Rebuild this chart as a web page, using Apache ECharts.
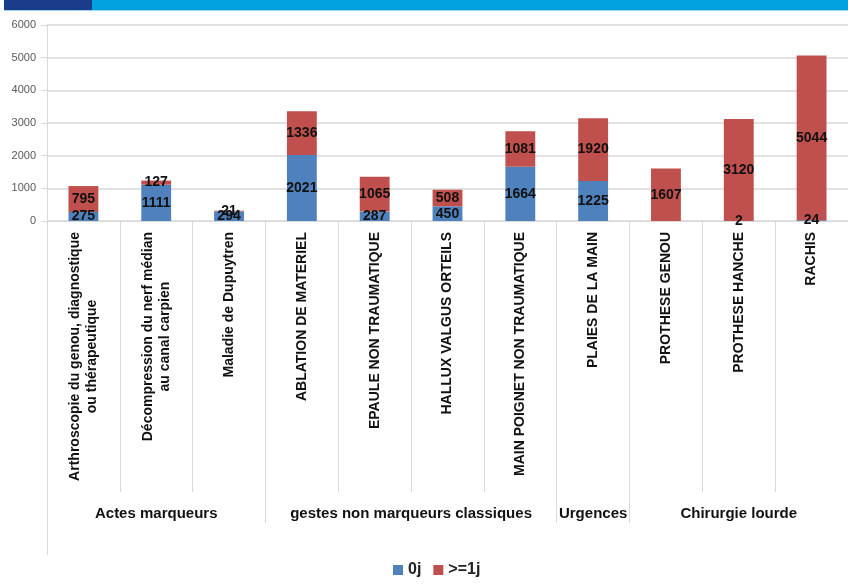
<!DOCTYPE html>
<html><head><meta charset="utf-8">
<script src="https://cdn.jsdelivr.net/npm/echarts@6/dist/echarts.min.js"></script>
<style>html,body{margin:0;padding:0;background:#fff}#c{width:848px;height:585px}</style>
</head><body><div id="c"></div>
<script>
const categories = [
  "Arthroscopie du genou, diagnostique\nou thérapeutique",
  "Décompression du nerf médian\nau canal carpien",
  "Maladie de Dupuytren",
  "ABLATION DE MATERIEL",
  "EPAULE NON TRAUMATIQUE",
  "HALLUX VALGUS ORTEILS",
  "MAIN POIGNET NON TRAUMATIQUE",
  "PLAIES DE LA MAIN",
  "PROTHESE GENOU",
  "PROTHESE HANCHE",
  "RACHIS"
];
const groups = ["Actes marqueurs", "gestes non marqueurs classiques", "Urgences", "Chirurgie lourde"];
const groupSizes = [3, 4, 1, 3];
const seriesNames = ["0j", ">=1j"];
const values0j = [275, 1111, 294, 2021, 287, 450, 1664, 1225, null, 2, 24];
const values1j = [795, 127, 21, 1336, 1065, 508, 1081, 1920, 1607, 3120, 5044];
const yMin = 0, yMax = 6000, yStep = 1000;

// group boundaries & centres derived from group sizes
const bounds = [];
const centres = [];
let acc = 0;
groupSizes.forEach(s => { centres.push(acc + s / 2); acc += s; bounds.push(acc); });
const innerBounds = bounds.slice(0, -1);
const nCat = categories.length;

const grey = '#d9d9d9';
const catFont = "'Liberation Sans Narrow', 'Liberation Sans', Arial, sans-serif";
const catSize = 14;

// centre each line of a multi-line category label within its block
const mctx = document.createElement('canvas').getContext('2d');
mctx.font = 'bold ' + catSize + 'px ' + catFont;
const rich = {c: {align: 'right', fontFamily: catFont, fontWeight: 'bold', fontSize: catSize, color: '#111', lineHeight: 17}};
const catFormatted = categories.map((name, idx) => {
  const lines = name.split('\n');
  if (lines.length === 1) return '{c|' + name + '}';
  const ws = lines.map(l => mctx.measureText(l).width);
  const maxW = Math.max(...ws);
  return lines.map((l, k) => {
    const pad = (maxW - ws[k]) / 2;
    if (pad < 0.5) return '{c|' + l + '}';
    const key = 's' + idx + '_' + k;
    rich[key] = {width: pad, align: 'right', fontSize: catSize, lineHeight: 17};
    return '{c|' + l + '}{' + key + '| }';
  }).join('\n');
});

const chart = echarts.init(document.getElementById('c'), null, {renderer: 'canvas'});
const labelStyle = {
  show: true, position: 'inside', color: '#111',
  fontFamily: "'Liberation Sans', Arial, sans-serif", fontWeight: 'bold', fontSize: 14
};
chart.setOption({
  animation: false,
  graphic: [
    {type: 'rect', shape: {x: 4, y: 0, width: 88, height: 10}, style: {fill: '#1b3c8a'}},
    {type: 'rect', shape: {x: 92, y: 0, width: 756, height: 10}, style: {fill: '#00a2df'}},
    {type: 'rect', shape: {x: 4, y: 10, width: 844, height: 1}, style: {fill: '#9ad6ef'}}
  ],
  grid: {left: 47, right: -8, top: 25, bottom: 364, containLabel: false},
  legend: {
    data: seriesNames, left: 388, bottom: 2, itemWidth: 10, itemHeight: 10, itemGap: 12,
    icon: 'rect',
    textStyle: {fontFamily: "'Liberation Sans', Arial, sans-serif", fontWeight: 'bold', fontSize: 16, color: '#222'}
  },
  xAxis: [
    {
      type: 'category', data: categories,
      axisLine: {show: true, lineStyle: {color: grey, width: 1}},
      axisTick: {show: true, interval: 0, length: 271, lineStyle: {color: grey}},
      axisLabel: {
        interval: 0, rotate: 90, margin: 11, color: '#111',
        fontFamily: catFont, fontWeight: 'bold', fontSize: catSize,
        formatter: (v, idx) => catFormatted[idx],
        rich: rich
      }
    },
    {
      type: 'value', min: 0, max: nCat, position: 'bottom', offset: 271,
      axisLine: {show: false}, splitLine: {show: false},
      axisTick: {show: true, customValues: innerBounds, length: 31, lineStyle: {color: grey}},
      axisLabel: {
        customValues: centres, margin: 14, color: '#111',
        fontFamily: catFont, fontWeight: 'bold', fontSize: 15,
        formatter: v => { const i = centres.indexOf(v); return i >= 0 ? groups[i] : ''; }
      }
    },
    {
      type: 'value', min: 0, max: nCat, position: 'bottom', offset: 0,
      axisLine: {show: false}, splitLine: {show: false},
      axisTick: {show: true, customValues: [0], length: 334, lineStyle: {color: grey}},
      axisLabel: {show: false}
    }
  ],
  yAxis: {
    type: 'value', min: yMin, max: yMax, interval: yStep,
    axisLine: {show: true, lineStyle: {color: grey}},
    axisTick: {show: true, length: 6, lineStyle: {color: grey}},
    splitLine: {show: true, lineStyle: {color: grey, width: 1.5}},
    axisLabel: {margin: 11, color: '#595959', fontFamily: "'Liberation Sans', Arial, sans-serif", fontSize: 11,
                formatter: v => String(v)}
  },
  series: [
    {name: seriesNames[0], type: 'bar', stack: 't', data: values0j, barWidth: '41%',
     itemStyle: {color: '#4f81bd'}, label: labelStyle},
    {name: seriesNames[1], type: 'bar', stack: 't', data: values1j, barWidth: '41%',
     itemStyle: {color: '#c0504d'}, label: labelStyle}
  ]
});
</script></body></html>
